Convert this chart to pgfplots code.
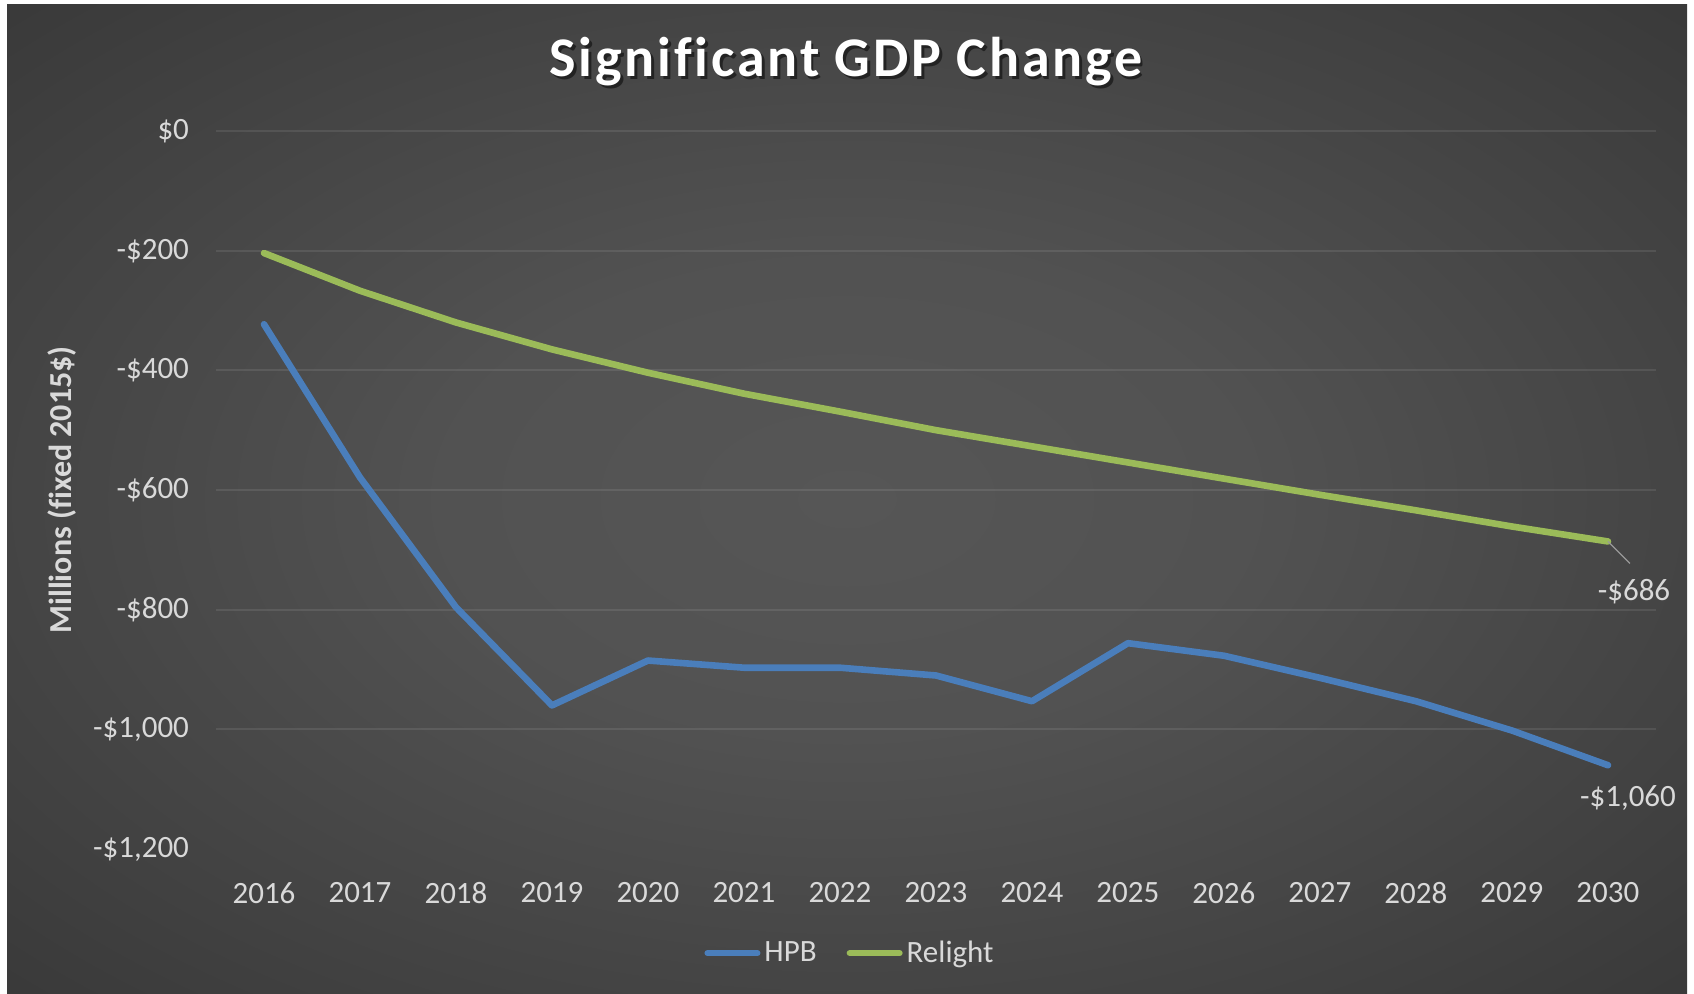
\documentclass[border=0pt]{standalone}
\usepackage{pgfplots}
\pgfplotsset{compat=1.18}
\usepackage{fontspec}
\setmainfont{Carlito}[Ligatures={NoCommon}]
\definecolor{bgin}{HTML}{565656}
\definecolor{bgout}{HTML}{232323}
\definecolor{hpb}{HTML}{4A7EBB}
\definecolor{rel}{HTML}{9BBB59}
\definecolor{lbl}{HTML}{D9D9D9}
\pgfdeclareradialshading{bgshade}{\pgfpoint{0bp}{0bp}}{color(0bp)=(bgin); color(12bp)=(bgin!92!bgout); color(35bp)=(bgin!45!bgout); color(55bp)=(bgout!95!bgin); color(75bp)=(bgout)}
\newcommand\titlefont{\fontsize{28}{32}\selectfont\bfseries\addfontfeature{LetterSpace=5}}
\begin{document}
\begin{tikzpicture}
\fill[white] (0,0) rectangle (847pt,496.5pt);
\shade[shading=bgshade] (3.5pt,0) rectangle (843.5pt,494pt);
\node[text=black, opacity=0.5, font=\titlefont] at (424.4pt,464.0pt) {Significant GDP Change};
\begin{axis}[
  scale only axis, width=720pt, height=359pt,
  at={(108pt,72pt)}, anchor=south west,
  clip=false,
  xmin=2015.5, xmax=2030.5, ymin=-1200, ymax=0,
  xtick={2016,...,2030},
  xticklabels={2016,2017,2018,2019,2020,2021,2022,2023,2024,2025,2026,2027,2028,2029,2030},
  ytick={-1000,-800,-600,-400,-200,0},
  yticklabels={{-\$1{,}000},{-\$800},{-\$600},{-\$400},{-\$200},{\$0}},
  extra y ticks={-1200},
  extra y tick labels={{-\$1{,}200}},
  extra y tick style={ymajorgrids=false},
  ymajorgrids, xmajorgrids=false,
  grid style={white, opacity=0.09, line width=1pt},
  axis line style={draw=none},
  major tick length=0pt,
  tick label style={text=lbl, font=\fontsize{15.5}{18}\selectfont},
  yticklabel style={xshift=-10pt},
  xticklabel style={yshift=-13pt},
  ylabel={Millions (fixed 2015\$)},
  ylabel style={at={(axis description cs:-0.107,0.5)}, anchor=center, text=lbl, font=\fontsize{16}{19}\selectfont\bfseries},
  every axis title shift=0pt,
  title={Significant GDP Change},
  title style={at={(axis description cs:0.4375,1.096)}, anchor=center, text=white, font=\titlefont},
  legend style={at={(axis description cs:0.441,-0.145)}, anchor=center, draw=none, fill=none, text=lbl, font=\fontsize{15.5}{18}\selectfont, inner sep=0pt},
  legend columns=2,
  legend cell align=left,
  /tikz/every even column/.append style={column sep=13pt},
  legend image code/.code={\draw[#1, line width=3pt, line cap=round] (0pt,0pt) -- (25pt,0pt);},
]
\addplot[hpb, line width=3.3pt, line join=round, line cap=round] coordinates {
(2016,-323) (2017,-579) (2018,-796) (2019,-960) (2020,-885) (2021,-897) (2022,-897) (2023,-910) (2024,-953) (2025,-856) (2026,-877) (2027,-914) (2028,-953) (2029,-1002) (2030,-1060)};
\addlegendentry{HPB}
\addplot[rel, line width=3.3pt, line join=round, line cap=round] coordinates {
(2016,-204) (2017,-267) (2018,-320) (2019,-365) (2020,-404) (2021,-439) (2022,-469) (2023,-500) (2024,-527) (2025,-554) (2026,-581) (2027,-608) (2028,-634) (2029,-661) (2030,-686)};
\addlegendentry{Relight}
\draw[gray!80, line width=0.6pt] (axis cs:2030,-686) -- ++(11pt,-11pt);
\node[text=lbl, font=\fontsize{15.5}{18}\selectfont] at ([xshift=13pt,yshift=-25pt]axis cs:2030,-686) {-\$686};
\node[text=lbl, font=\fontsize{15.5}{18}\selectfont] at ([xshift=10pt,yshift=-16.5pt]axis cs:2030,-1060) {-\$1,060};
\end{axis}
\end{tikzpicture}
\end{document}
